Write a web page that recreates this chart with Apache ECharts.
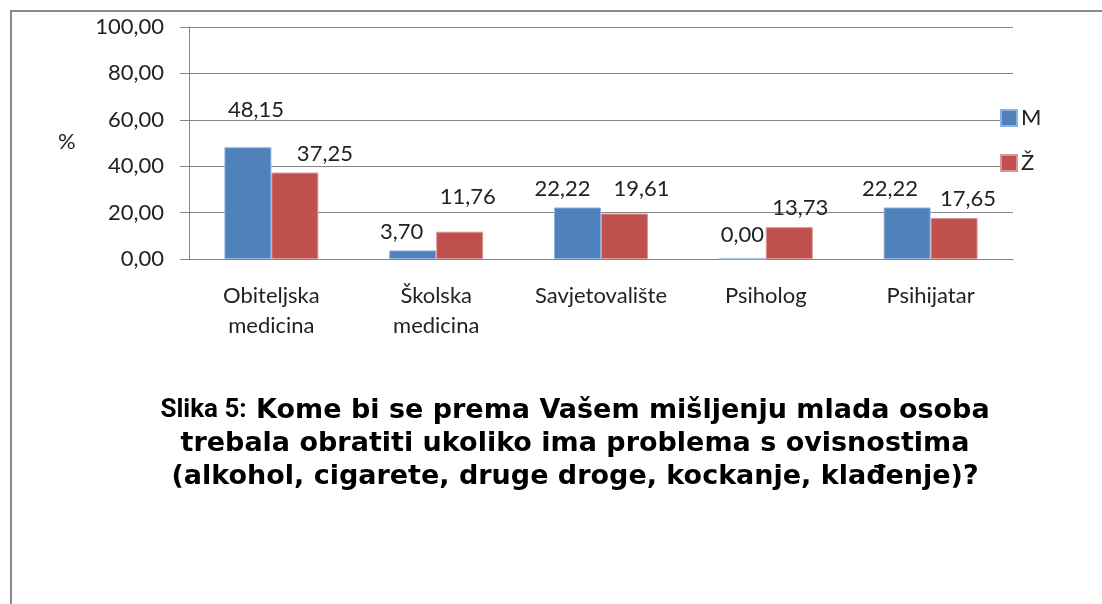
<!DOCTYPE html>
<html>
<head>
<meta charset="utf-8">
<script src="https://cdn.jsdelivr.net/npm/echarts@6/dist/echarts.min.js"></script>
<style>
    html, body { margin: 0; padding: 0; background: #fff; }
    #chart { width: 1102px; height: 604px; }
</style>
</head>
<body>
<div id="chart"></div>
<script>
// kategorije i vrijednosti (%)
const categories = ['Obiteljska\nmedicina', 'Školska\nmedicina', 'Savjetovalište', 'Psiholog', 'Psihijatar']
const valuesM = [48.15, 3.70, 22.22, 0.00, 22.22]
const valuesZ = [37.25, 11.76, 19.61, 13.73, 17.65]
const yTicks = [0, 20, 40, 60, 80, 100]

// pomak oznaka (Excel ih razmiče da se ne preklapaju)
const shiftM = [[8, -18], [-11, 0], [-15, 0], [0, -5], [-17, 0]]
const shiftZ = [[30, 0], [8, -16], [17, -6], [11, 0], [14, 0]]

const fmt = v => Number(v).toFixed(2).replace('.', ',')
const font = 'Lato, "Open Sans", sans-serif'

const chart = echarts.init(document.getElementById('chart'))

const labelStyle = {
    show: true,
    position: 'top',
    distance: 8,
    color: '#222',
    fontFamily: font,
    fontSize: 22,
    formatter: p => fmt(p.value)
}

const withShift = (values, shift) => values.map((v, i) => ({
    value: v,
    label: { offset: shift[i] }
}))

chart.setOption({
    animation: false,
    grid: { left: 189, right: 89, top: 27, bottom: 345, containLabel: false },
    legend: {
        orient: 'vertical',
        left: 995,
        top: 102,
        itemWidth: 16,
        itemHeight: 16,
        itemGap: 23,
        icon: 'rect',
        textStyle: { fontFamily: font, fontSize: 22, color: '#222', padding: [0, 0, 0, -1] },
        data: ['M', 'Ž']
    },
    xAxis: {
        type: 'category',
        data: categories,
        axisLine: { lineStyle: { color: '#868686' } },
        axisTick: { show: false },
        axisLabel: { color: '#222', fontFamily: font, fontSize: 22, lineHeight: 30, margin: 22, interval: 0 }
    },
    yAxis: {
        type: 'value',
        min: yTicks[0],
        max: yTicks[yTicks.length - 1],
        interval: 20,
        axisLine: { show: true, lineStyle: { color: '#868686' } },
        axisTick: { show: true, length: 9, lineStyle: { color: '#868686' } },
        splitLine: { lineStyle: { color: '#868686' } },
        axisLabel: { color: '#222', fontFamily: font, fontSize: 22, margin: 25, formatter: v => fmt(v) }
    },
    series: [
        {
            name: 'M', type: 'bar', data: withShift(valuesM, shiftM),
            barWidth: '28.5%', barGap: '0%',
            itemStyle: { color: '#4F81BD', borderColor: '#8fb2dd', borderWidth: 1 },
            label: labelStyle
        },
        {
            name: 'Ž', type: 'bar', data: withShift(valuesZ, shiftZ),
            barWidth: '28.5%', barGap: '0%',
            itemStyle: { color: '#C0504D', borderColor: '#d99694', borderWidth: 1 },
            label: labelStyle
        }
    ],
    graphic: [
        {
            type: 'polyline',
            shape: { points: [[11, 604], [11, 11], [1102, 11]] },
            style: { stroke: '#8a8a8a', lineWidth: 2, fill: null }
        },
        {
            type: 'text', left: 58, top: 131,
            style: { text: '%', font: '22px ' + font, fill: '#222' }
        },
        {
            type: 'text', x: 575, y: 394,
            style: {
                text: '{a|Slika 5:} Kome bi se prema Vašem mišljenju mlada osoba\ntrebala obratiti ukoliko ima problema s ovisnostima\n(alkohol, cigarete, druge droge, kockanje, klađenje)?',
                align: 'center',
                verticalAlign: 'top',
                lineHeight: 33,
                fontFamily: '"DejaVu Sans", sans-serif',
                fontWeight: 'bold',
                fontSize: 27,
                fill: '#000',
                rich: {
                    a: { fontFamily: '"Liberation Sans Narrow", Roboto, sans-serif', fontWeight: 'bold', fontSize: 26, lineHeight: 33, fill: '#000' }
                }
            }
        }
    ]
})
</script>
</body>
</html>
